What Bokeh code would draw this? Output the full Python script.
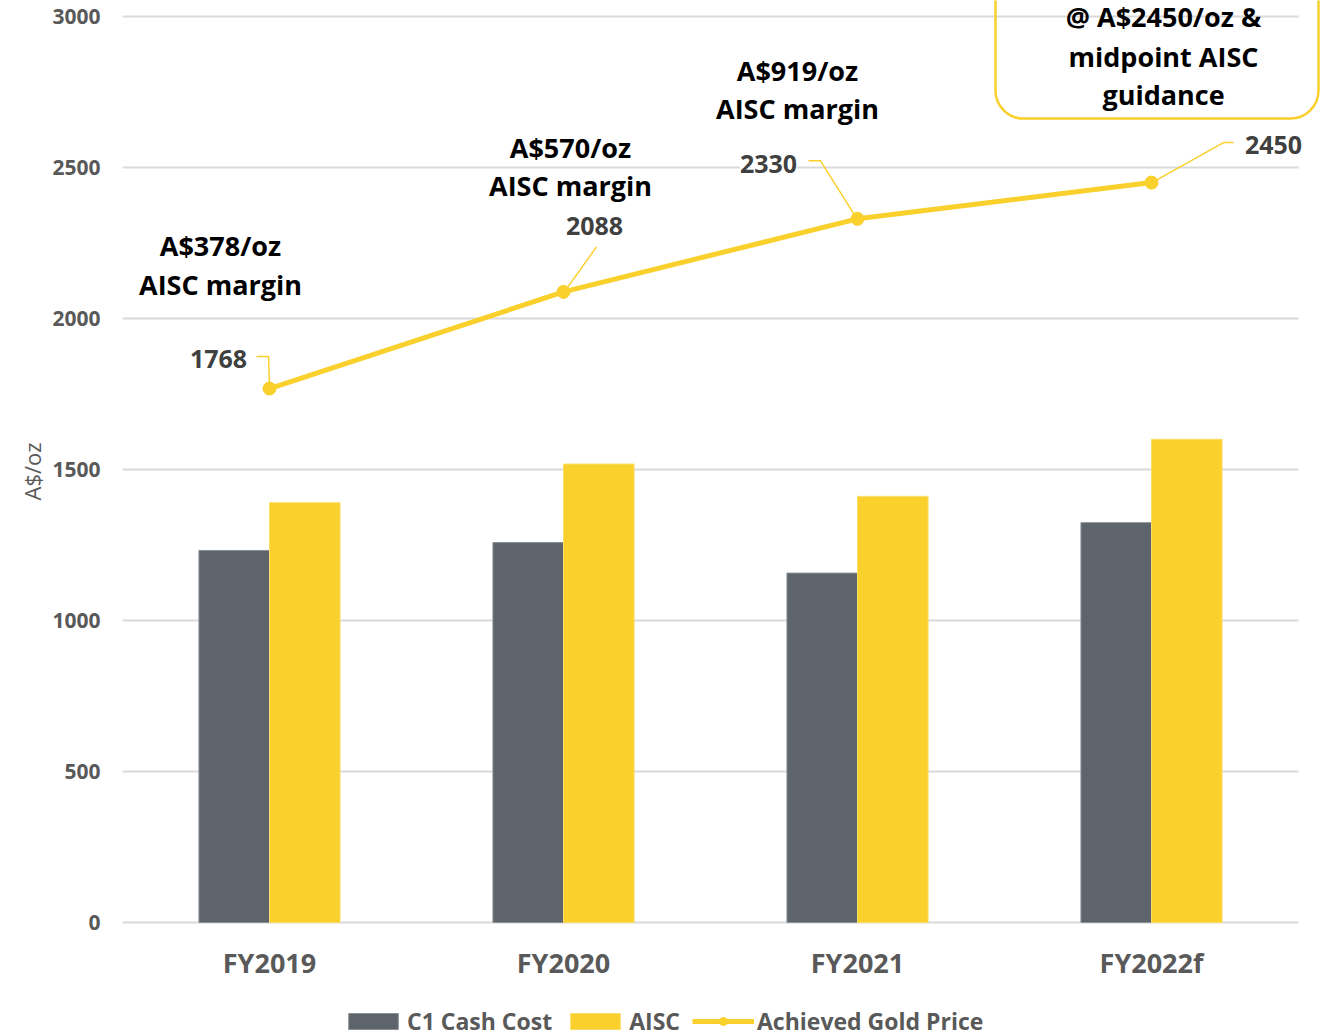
from bokeh.plotting import figure
from bokeh.models import (ColumnDataSource, Range1d, LabelSet, BoxAnnotation,
                          Legend, LegendItem, FixedTicker, Title)
from bokeh.core.properties import value
from bokeh.transform import dodge
from bokeh.embed import file_html
from bokeh.resources import INLINE

# ---- data ----
categories = ["FY2019", "FY2020", "FY2021", "FY2022f"]
c1_cash_cost = [1232, 1258, 1157, 1324]
aisc = [1390, 1518, 1411, 1600]
gold_price = [1768, 2088, 2330, 2450]
gold_labels = ["1768", "2088", "2330", "2450"]
margin_line1 = ["A$378/oz", "A$570/oz", "A$919/oz", "@ A$2450/oz &"]
margin_line2 = ["AISC margin", "AISC margin", "AISC margin", "midpoint AISC"]
margin_line3 = ["", "", "", "guidance"]
y_ticks = [0, 500, 1000, 1500, 2000, 2500, 3000]
y_title = "A$/oz"

YELLOW = "#F9D02C"
GREY = "#5D646B"
FONT = "Open Sans"

W, H = 1321, 1030
LEFT = 122
PX_X = 294.0            # px per category
PX_Y = 906.0 / 3000.0   # px per A$
ZERO_Y = 922            # canvas y of value 0

xnum = [i + 0.5 for i in range(len(categories))]

p = figure(width=W, height=H,
           x_range=Range1d(0, (W - LEFT) / PX_X),
           y_range=Range1d(-(H - ZERO_Y) / PX_Y, ZERO_Y / PX_Y),
           output_backend="svg", toolbar_location=None,
           min_border_left=LEFT, min_border_right=0, min_border_top=0, min_border_bottom=0)
p.outline_line_color = None
p.background_fill_color = "white"

src = ColumnDataSource(dict(x=xnum, c1=c1_cash_cost, aisc=aisc, gold=gold_price))

r_c1 = p.vbar(x=dodge("x", -0.12), top="c1", width=0.24, source=src,
              fill_color=GREY, line_color="#8A9096", line_width=1)
r_aisc = p.vbar(x=dodge("x", 0.12), top="aisc", width=0.24, source=src,
                fill_color=YELLOW, line_color="#FBDD66", line_width=1)

# leader lines (offsets in px relative to the gold-price point)
leader_px = [[(-13, -32), (-1, -32), (0, -5)],
             [(33, -45), (3, -3)],
             [(-49, -58), (-37, -58), (-3, -4)],
             [(82, -40), (72, -40), (4, -2)]]
xs, ys = [], []
for i, pts in enumerate(leader_px):
    xs.append([xnum[i] + dx / PX_X for dx, dy in pts])
    ys.append([gold_price[i] - dy / PX_Y for dx, dy in pts])
p.multi_line(xs=xs, ys=ys, line_color=YELLOW, line_width=1.5)

r_line = p.line(x="x", y="gold", source=src, line_color=YELLOW, line_width=5)
r_pts = p.scatter(x="x", y="gold", source=src, size=13, fill_color=YELLOW, line_color=YELLOW)

# rounded box around final annotation
box = BoxAnnotation(left=xnum[3] + (995 - 1151) / PX_X, right=xnum[3] + (1318 - 1151) / PX_X,
                    bottom=gold_price[3] + (183 - 119) / PX_Y, top=3400,
                    fill_alpha=0, line_color=YELLOW, line_alpha=1, line_width=2.5,
                    border_radius=28)
p.add_layout(box)

# data labels
lab_src = ColumnDataSource(dict(x=xnum, y=gold_price, t=gold_labels,
                                xo=[-51, 31, -89, 122], yo=[30, 66, 55, 38]))
p.add_layout(LabelSet(x="x", y="y", text="t", source=lab_src, x_offset="xo", y_offset="yo",
                      text_align="center", text_baseline="middle", text_font=value(FONT),
                      text_font_style="bold", text_font_size="25px", text_color="#404040",
                      background_fill_color="white"))

# margin annotations, one row per text line
mx, my, mt, mxo, myo = [], [], [], [], []
line_dx = [-49, 7, -60, 12]
line_dy = [[143, 104, 0], [144, 106, 0], [148, 110, 0], [166, 126, 88]]
for i in range(len(categories)):
    for j, lines in enumerate([margin_line1, margin_line2, margin_line3]):
        if lines[i]:
            mx.append(xnum[i]); my.append(gold_price[i]); mt.append(lines[i])
            mxo.append(line_dx[i]); myo.append(line_dy[i][j])
m_src = ColumnDataSource(dict(x=mx, y=my, t=mt, xo=mxo, yo=myo))
p.add_layout(LabelSet(x="x", y="y", text="t", source=m_src, x_offset="xo", y_offset="yo",
                      text_align="center", text_baseline="middle", text_font=value(FONT),
                      text_font_style="bold", text_font_size="27px", text_color="black"))

# axes
p.yaxis.ticker = FixedTicker(ticks=y_ticks)
p.yaxis.axis_line_color = None
p.yaxis.major_tick_line_color = None
p.yaxis.minor_tick_line_color = None
p.yaxis.major_label_standoff = 16
p.yaxis.major_label_text_font = FONT
p.yaxis.major_label_text_font_style = "bold"
p.yaxis.major_label_text_font_size = "21px"
p.yaxis.major_label_text_color = "#595959"

# y title placed beside the axis, aligned to the value range rather than the full frame
p.add_layout(Title(text=y_title, align="left", offset=H - 500, standoff=6,
                   text_font=FONT, text_font_style="normal", text_font_size="22px",
                   text_color="#595959"), "left")

p.xaxis.ticker = FixedTicker(ticks=xnum)
p.xaxis.major_label_overrides = {x: c for x, c in zip(xnum, categories)}
p.xaxis.fixed_location = 0
p.xaxis.axis_line_color = None
p.xaxis.major_tick_line_color = None
p.xaxis.minor_tick_line_color = None
p.xaxis.major_label_standoff = 15
p.xaxis.major_label_text_font = FONT
p.xaxis.major_label_text_font_style = "bold"
p.xaxis.major_label_text_font_size = "27px"
p.xaxis.major_label_text_color = "#595959"

p.xgrid.grid_line_color = None
p.ygrid.grid_line_color = "#D9D9D9"
p.ygrid.grid_line_width = 2
p.ygrid.ticker = FixedTicker(ticks=y_ticks)
g = p.ygrid[0]
if "cross_bounds" in g.properties():
    g.cross_bounds = (0, len(categories))

legend = Legend(items=[LegendItem(label="C1 Cash Cost", renderers=[r_c1]),
                       LegendItem(label="AISC", renderers=[r_aisc]),
                       LegendItem(label="Achieved Gold Price", renderers=[r_line, r_pts])],
                orientation="horizontal", location=(220, -7), padding=0, margin=0,
                glyph_width=62, glyph_height=20, label_standoff=3, spacing=12,
                label_text_font=FONT, label_text_font_style="bold",
                label_text_font_size="23px", label_text_color="#595959",
                background_fill_alpha=0, border_line_color=None)
p.add_layout(legend)

open("out.html", "w").write(file_html(p, INLINE))
